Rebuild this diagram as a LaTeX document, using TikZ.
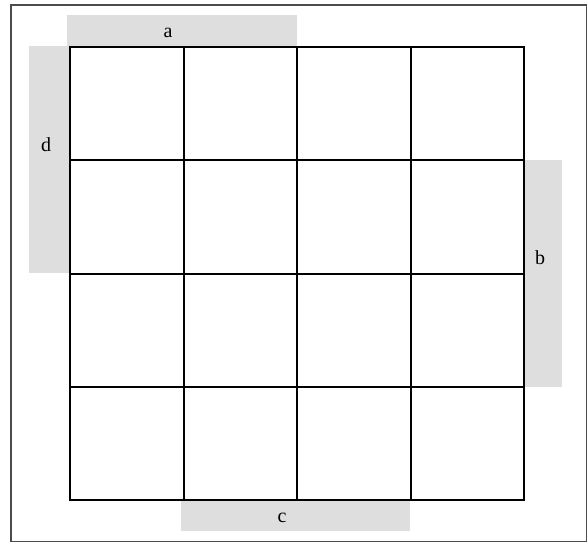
\documentclass[tikz,border=0pt]{standalone}
\usepackage{fontspec}
\setmainfont{Liberation Serif}
\usetikzlibrary{positioning, calc}

\begin{document}
\begin{tikzpicture}[
    x=1pt, y=-1pt,
    cell/.style={draw=black, line width=2pt, minimum width=113.5pt, minimum height=113.25pt, inner sep=0pt},
    bar/.style={fill=black!13, draw=none},
    varlabel/.style={font=\fontsize{20}{22}\selectfont, inner sep=0pt}
]

\useasboundingbox (0,0) rectangle (588,543);

% --- Outer frame ---
\draw[draw=black!70, line width=1.5pt] (11,5) rectangle (586.5,541.5);

% --- Grey bars marking the variables ---
\fill[bar] (67,15) rectangle (297,47);
\fill[bar] (29,46) rectangle (70,273);
\fill[bar] (524,160) rectangle (562,387);
\fill[bar] (181,500) rectangle (410,531);

% --- Cells of the 4x4 map ---
\foreach \r in {1,...,4} {
    \foreach \c in {1,...,4} {
        \node[cell] (m\r\c) at ({70 + (\c-0.5)*113.5}, {47 + (\r-0.5)*113.25}) {};
    }
}

% --- Variable labels ---
\node[varlabel] (lblA) at (168,33) {a};
\node[varlabel] (lblD) at (46,145) {d};
\node[varlabel] (lblB) at (540,258) {b};
\node[varlabel] (lblC) at (282,518) {c};

\end{tikzpicture}
\end{document}
